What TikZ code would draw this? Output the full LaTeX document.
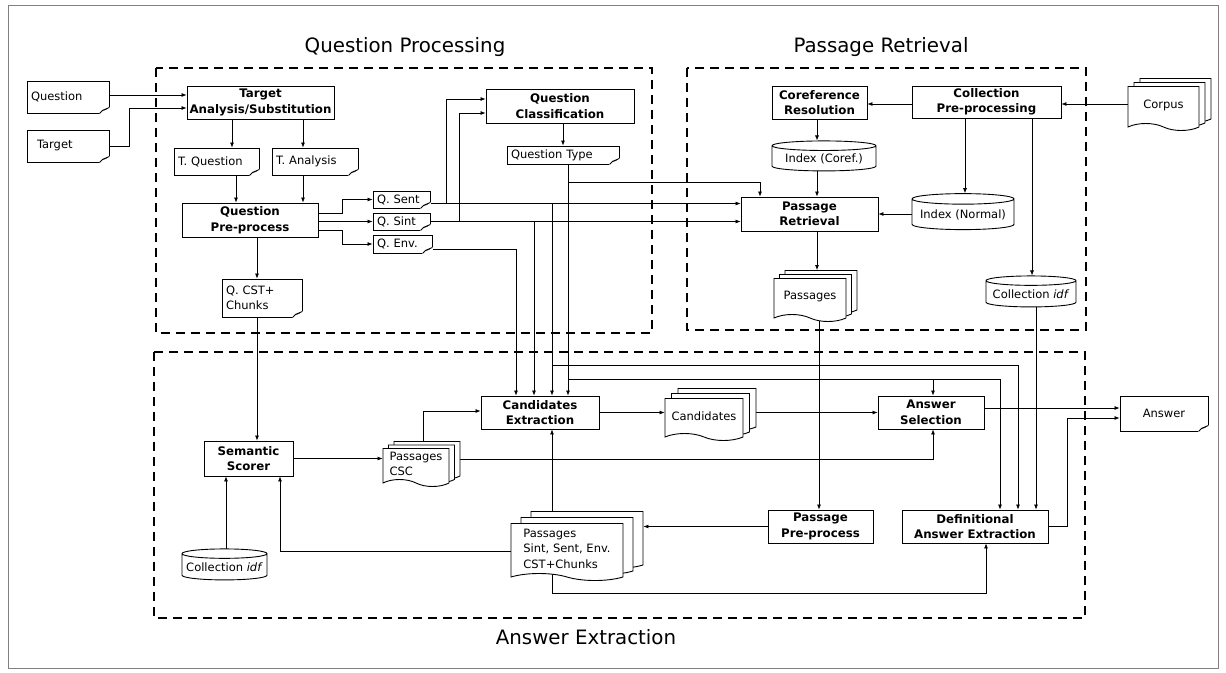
\documentclass[tikz,border=0pt]{standalone}
\usepackage{fontspec}
\setmainfont{DejaVu Sans}
\usetikzlibrary{arrows.meta,shapes.geometric,shapes.symbols,shadows,calc}
\pgfdeclarelayer{paper}
\pgfdeclarelayer{wires}
\pgfsetlayers{paper,wires,main}
\newcommand\bxfont{\bfseries\fontsize{11.8}{15.5}\selectfont}
\newcommand\dcfont{\fontsize{11.5}{15.5}\selectfont}

\begin{document}
\begin{tikzpicture}[x=1pt,y=-1pt,
  box/.style={draw,line width=0.9pt,fill=white,font=\bxfont,align=center,inner sep=1pt},
  doc/.style={draw,line width=0.9pt,fill=white,font=\dcfont,align=left,inner xsep=4pt,inner ysep=1pt},
  docs/.style={tape,tape bend top=none,tape bend bottom=out and in,tape bend height=7pt,draw,line width=0.9pt,fill=white,font=\dcfont,align=left,inner xsep=4pt,inner ysep=1pt},
  db/.style={cylinder,shape border rotate=90,aspect=0.12,draw,line width=0.9pt,fill=white,font=\dcfont,inner sep=1pt},
  group/.style={line width=2.4pt,dash pattern=on 9pt off 6pt},
  title/.style={font=\fontsize{19.8}{24}\selectfont},
  wire/.style={line width=0.7pt},
  >={Latex[length=5pt,width=4pt]}]
\begin{pgfonlayer}{paper}
\fill[white] (0,0) rectangle (1226,672);
\end{pgfonlayer}
\useasboundingbox (0,0) rectangle (1226,672);
\draw[gray,line width=0.8pt] (8,5) rectangle (1218,668);

% groups
\draw[group] (156,68) rectangle (652,333);
\draw[group] (687,68) rectangle (1086,330);
\draw[group] (154,352) rectangle (1085,618);
\node[title] (tqp) at (405,47) {Question Processing};
\node[title] (tpr) at (881,47) {Passage Retrieval};
\node[title] (tae) at (586,637) {Answer Extraction};

% question processing
\node[doc,text width=74pt,minimum height=32pt] (question) at (68,97) {Question};
\node[doc,text width=74pt,minimum height=32pt] (target) at (68,146) {\hspace*{6pt}Target};
\node[box,minimum width=147pt,minimum height=33pt] (ta) at (260.5,102.5) {Target\\Analysis/Substitution};
\node[doc,text width=77pt,minimum height=27pt] (tq) at (216.5,161.5) {T. Question};
\node[doc,text width=78pt,minimum height=27pt] (tan) at (315,161.5) {T. Analysis};
\node[box,minimum width=136pt,minimum height=34pt] (qp) at (250,220) {Question\\Pre-process};
\node[doc,text width=49pt,minimum height=17pt] (qsent) at (401.5,199.5) {Q. Sent};
\node[doc,text width=49pt,minimum height=17pt] (qsint) at (401.5,221.5) {Q. Sint};
\node[doc,text width=51pt,minimum height=18pt] (qenv) at (402.5,244) {Q. Env.};
\node[doc,text width=72pt,minimum height=38pt] (qcst) at (262,298) {Q. CST+\\Chunks};
\node[box,minimum width=148pt,minimum height=34pt] (qc) at (560,106) {Question\\Classification};
\node[doc,text width=104pt,minimum height=18pt] (qtype) at (563,155) {Question Type};

% passage retrieval
\node[box,minimum width=95pt,minimum height=33pt] (cr) at (819.5,102.5) {Coreference\\Resolution};
\node[box,minimum width=149pt,minimum height=32pt] (cpp) at (986.5,102) {Collection\\Pre-processing};
\node[docs,minimum width=71pt,minimum height=44pt,
  double copy shadow={shadow xshift=6pt,shadow yshift=4pt,fill=white,draw=black}] (corpus) at (1163.5,105) {Corpus};
\node[db,minimum width=104pt,minimum height=30pt] (icoref) at (824,159) {Index (Coref.)};
\node[box,minimum width=137pt,minimum height=34pt] (pr) at (809.5,214) {Passage\\Retrieval};
\node[db,minimum width=102pt,minimum height=36pt] (inorm) at (963,215) {Index (Normal)};
\node[docs,minimum width=72pt,minimum height=43pt,
  double copy shadow={shadow xshift=5.5pt,shadow yshift=4pt,fill=white,draw=black}] (passages) at (810,296.5) {Passages};
\node[db,minimum width=90pt,minimum height=31pt] (cidf) at (1031,294.5) {Collection \textit{idf}};

% answer extraction
\node[box,minimum width=89pt,minimum height=35pt] (ss) at (248.5,458.5) {Semantic\\Scorer};
\node[docs,minimum width=66pt,minimum height=38pt,
  double copy shadow={shadow xshift=5.5pt,shadow yshift=3.5pt,fill=white,draw=black}] (pcsc) at (416,464) {Passages\\CSC};
\node[box,minimum width=118pt,minimum height=33pt] (ce) at (540,412.5) {Candidates\\Extraction};
\node[docs,minimum width=78pt,minimum height=42pt,
  double copy shadow={shadow xshift=6.5pt,shadow yshift=5pt,fill=white,draw=black}] (cands) at (704,416) {Candidates};
\node[box,minimum width=106pt,minimum height=33pt] (as) at (931,412.5) {Answer\\Selection};
\node[doc,align=center,text width=80pt,minimum height=35pt] (answer) at (1164,413.5) {Answer};
\node[docs,minimum width=112pt,minimum height=57pt,
  double copy shadow={shadow xshift=10pt,shadow yshift=6pt,fill=white,draw=black}] (pbig) at (567,548.5) {Passages\\Sint, Sent, Env.\\CST+Chunks};
\node[box,minimum width=105pt,minimum height=33pt] (ppp) at (820.5,526.5) {Passage\\Pre-process};
\node[box,minimum width=146pt,minimum height=33pt] (dae) at (975,526.5) {Definitional\\Answer Extraction};
\node[db,minimum width=85pt,minimum height=31pt] (cidfb) at (224.5,567.5) {Collection \textit{idf}};

% folded corners
\foreach \d in {question,target,tq,tan,qsent,qsint,qenv,qcst,qtype,answer}{
  \fill[white] ([xshift=-10pt,yshift=-1pt]\d.south east) rectangle ([xshift=1pt,yshift=6pt]\d.south east);
  \draw[line width=0.9pt] ([xshift=-10pt]\d.south east) -- ([xshift=-7pt,yshift=3pt]\d.south east) -- ([yshift=6pt]\d.south east);
  \draw[line width=0.6pt] ([xshift=-7pt,yshift=3pt]\d.south east) -- ([xshift=-3pt,yshift=4pt]\d.south east);
}

\begin{pgfonlayer}{wires}
\draw[wire,->] (question.east |- 0,95) -- (ta.west |- 0,95);
\draw[wire,->] (target.east) -| (129,108) -- (ta.west |- 0,108);
\draw[wire,->] (ta.south -| 232,0) -- (tq.north -| 232,0);
\draw[wire,->] (ta.south -| 303,0) -- (tan.north -| 303,0);
\draw[wire,->] (tq.south -| 236,0) -- (qp.north -| 236,0);
\draw[wire,->] (tan.south -| 303,0) -- (qp.north -| 303,0);
\draw[wire,->] (qp.east |- 0,213) -- (342,213) |- (qsent.west);
\draw[wire,->] (qp.east |- qsint.west) -- (qsint.west);
\draw[wire,->] (qp.east |- 0,230) -- (342,230) |- (qenv.west);
\draw[wire,->] (qp.south -| 257,0) -- (qcst.north -| 257,0);
\draw[wire,->] (qcst.south -| 257,0) -- (ss.north -| 257,0);
\draw[wire,->] (qsent.east |- 0,203.5) -- (pr.west |- 0,203.5);
\draw[wire,->] (qsent.east |- 0,203.5) -| (446,99) -- (qc.west |- 0,99);
\draw[wire,->] (qsint.east |- 0,221.5) -| (459,113) -- (qc.west |- 0,113);
\draw[wire,->] (qsint.east |- 0,221.5) -- (pr.west |- 0,221.5);
\draw[wire,->] (qenv.east |- 0,249) -| (ce.north -| 516,0);
\draw[wire,->] (qsint.east |- 0,221.5) -| (ce.north -| 534,0);
\draw[wire,->] (qsent.east |- 0,203.5) -| (ce.north -| 552,0);
\draw[wire,->] (qc.south -| 563,0) -- (qtype.north -| 563,0);
\draw[wire,->] (qtype.south -| 568,0) -- (ce.north -| 568,0);
\draw[wire,->] (qtype.south -| 568,0) |- (760,182) -- (pr.north -| 760,0);
\draw[wire,->] (qsent.east |- 0,203.5) -| (552,365) -| (dae.north -| 1018,0);
\draw[wire,->] (qtype.south -| 568,0) |- (933,379) -- (as.north -| 933,0);
\draw[wire,->] (qtype.south -| 568,0) |- (1000,379) -- (dae.north -| 1000,0);
\draw[wire,->] (cidf.center -| 1036,0) -- (dae.north -| 1036,0);
\draw[wire,->] (corpus.west |- 0,104) -- (cpp.east |- 0,104);
\draw[wire,->] (cpp.west |- 0,104) -- (cr.east |- 0,104);
\draw[wire,->] (cr.south -| 817,0) -- (icoref.north -| 817,0);
\draw[wire,->] (icoref.center -| 817,0) -- (pr.north -| 817,0);
\draw[wire,->] (cpp.south -| 965,0) -- (inorm.north -| 965,0);
\draw[wire,->] (cpp.south -| 1032,0) -- (cidf.north -| 1032,0);
\draw[wire,->] (inorm.center |- 0,214) -- (pr.east |- 0,214);
\draw[wire,->] (pr.south -| 817,0) -- ($(passages.north -| 817,0)+(0,-8)$);
\draw[wire,->] (passages.center -| 819,0) -- (ppp.north -| 819,0);
\draw[wire,->] (ss.east) -- (pcsc.west |- ss.east);
\draw[wire,->] (pcsc.center -| 423,0) |- (ce.west |- 0,411);
\draw[wire,->] (pcsc.center |- 0,459) -| (as.south -| 933,0);
\draw[wire,->] (ce.east) -- (cands.west |- ce.east);
\draw[wire,->] (cands.center |- as.west) -- (as.west);
\draw[wire,->] (as.east |- 0,408) -- (answer.west |- 0,408);
\draw[wire,->] (dae.east) -| (1067,418) -- (answer.west |- 0,418);
\draw[wire,->] (pbig.center -| 552,0) -- (ce.south -| 552,0);
\draw[wire,->] (ppp.west) -- ($(pbig.east |- ppp.west)+(20,0)$);
\draw[wire,->] (pbig.center |- 0,551) -| (ss.south -| 280,0);
\draw[wire,->] (pbig.center -| 552,0) |- (986,593) -- (dae.south -| 986,0);
\draw[wire,->] (cidfb.center -| 226,0) -- (ss.south -| 226,0);
\end{pgfonlayer}
\end{tikzpicture}
\end{document}
